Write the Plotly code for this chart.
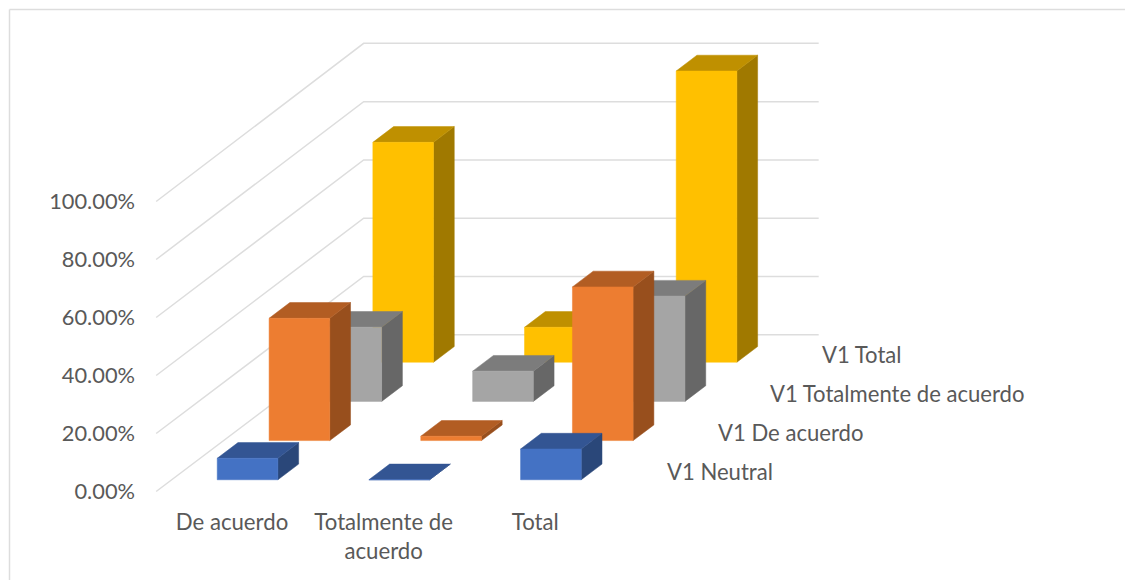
import plotly.graph_objects as go

categories = ["De acuerdo", "Totalmente de<br>acuerdo", "Total"]
series_names = ["V1 Neutral", "V1 De acuerdo", "V1 Totalmente de acuerdo", "V1 Total"]
v1_neutral = [7.4, 0.0, 10.6]
v1_de_acuerdo = [42.1, 1.5, 52.9]
v1_totalmente = [25.5, 10.4, 36.2]
v1_total = [75.5, 12.0, 100.0]
series_values = [v1_neutral, v1_de_acuerdo, v1_totalmente, v1_total]
y_ticks = [0, 20, 40, 60, 80, 100]
y_tick_labels = ["0.00%", "20.00%", "40.00%", "60.00%", "80.00%", "100.00%"]

front_colors = ["#4472C4", "#ED7D31", "#A5A5A5", "#FFC000"]
top_colors = ["#335593", "#B25D23", "#7C7C7C", "#BF9000"]
side_colors = ["#2A4779", "#984F1D", "#676767", "#A07900"]
grid_color = "#DDDDDD"
text_color = "#595959"
FONT = "Lato"
FS_Y = 21.8
FS_X = 22.2
FS_S = 22.1

W, H = 1125, 580
M_L, M_B = 136, 73
PX_CAT = 151.67      # pixels per category
PX_PCT = 2.9         # pixels per percent
X0_PX, Y0_PX = 232.0, 491.5   # pixel of category 0 / value 0 at front
DEPTH_X = 207.5 / PX_CAT      # oblique projection of the depth axis
DEPTH_Y = 156.7 / PX_PCT
DEPTH_SCALE = 0.005           # slight perspective growth towards the back
BAR_W = 0.4
BAR_D = 0.10
SERIES_STEP = 0.25


def proj(c, d, v):
    return c + DEPTH_X * d, v * (1 + DEPTH_SCALE * d) + DEPTH_Y * d


def poly(points):
    xs, ys = [], []
    for c, d, v in points:
        x, y = proj(c, d, v)
        xs.append(x)
        ys.append(y)
    xs.append(xs[0])
    ys.append(ys[0])
    return xs, ys


fig = go.Figure()

# walls: gridlines run along the side wall and along the back wall
n = len(categories)
for t in y_ticks:
    xs, ys = zip(*[proj(-0.5, 0, t), proj(-0.5, 1, t), proj(n - 0.5, 1, t)])
    fig.add_trace(go.Scatter(x=list(xs), y=list(ys), mode="lines",
                             line=dict(color=grid_color, width=1.5),
                             hoverinfo="skip", showlegend=False))

# bars, back series first
for s in reversed(range(len(series_values))):
    d0 = 0.075 + SERIES_STEP * s
    d1 = d0 + BAR_D
    for c, v in enumerate(series_values[s]):
        l, r = c - BAR_W / 2, c + BAR_W / 2
        faces = [
            ([(r, d0, 0), (r, d1, 0), (r, d1, v), (r, d0, v)], side_colors[s]),
            ([(l, d0, v), (r, d0, v), (r, d1, v), (l, d1, v)], top_colors[s]),
            ([(l, d0, 0), (r, d0, 0), (r, d0, v), (l, d0, v)], front_colors[s]),
        ]
        for pts, col in faces:
            xs, ys = poly(pts)
            fig.add_trace(go.Scatter(x=xs, y=ys, mode="lines", fill="toself",
                                     fillcolor=col, line=dict(color=col, width=0.5),
                                     hoverinfo="skip", showlegend=False))

# series labels on the depth axis
for s, name in enumerate(series_names):
    x, y = proj(n - 0.5, 0.075 + SERIES_STEP * s + BAR_D / 2, 0)
    fig.add_annotation(x=x, y=y, text=name, showarrow=False, xanchor="left",
                       yanchor="middle", xshift=27.5,
                       font=dict(family=FONT, size=FS_S, color=text_color))

plot_w, plot_h = W - M_L, H - M_B
fig.update_layout(
    width=W, height=H, autosize=False,
    margin=dict(l=M_L, r=0, t=0, b=M_B, pad=0),
    paper_bgcolor="white", plot_bgcolor="white",
    showlegend=False,
    font=dict(family=FONT, color=text_color),
    xaxis=dict(range=[(M_L - X0_PX) / PX_CAT, (W - X0_PX) / PX_CAT],
               tickmode="array", tickvals=list(range(n)), ticktext=categories,
               tickfont=dict(family=FONT, size=FS_X, color=text_color),
               showgrid=False, zeroline=False, showline=False, ticks="",
               tickangle=0, fixedrange=True),
    yaxis=dict(range=[(Y0_PX - plot_h) / PX_PCT, Y0_PX / PX_PCT],
               tickmode="array", tickvals=y_ticks, ticktext=y_tick_labels,
               tickfont=dict(family=FONT, size=FS_Y, color=text_color),
               showgrid=False, zeroline=False, showline=False, ticks="",
               fixedrange=True),
    shapes=[
        dict(type="line", xref="paper", yref="paper",
             x0=(9.5 - M_L) / plot_w, x1=1, y0=1 - 9.5 / plot_h, y1=1 - 9.5 / plot_h,
             line=dict(color=grid_color, width=1.5)),
        dict(type="line", xref="paper", yref="paper",
             x0=(9.5 - M_L) / plot_w, x1=(9.5 - M_L) / plot_w, y0=1 - 9.5 / plot_h, y1=1 - H / plot_h,
             line=dict(color=grid_color, width=1.5)),
    ],
)

fig.write_html("out.html", config=dict(displayModeBar=False),
               post_script="document.body.style.margin='0';document.documentElement.style.overflow='hidden';")
